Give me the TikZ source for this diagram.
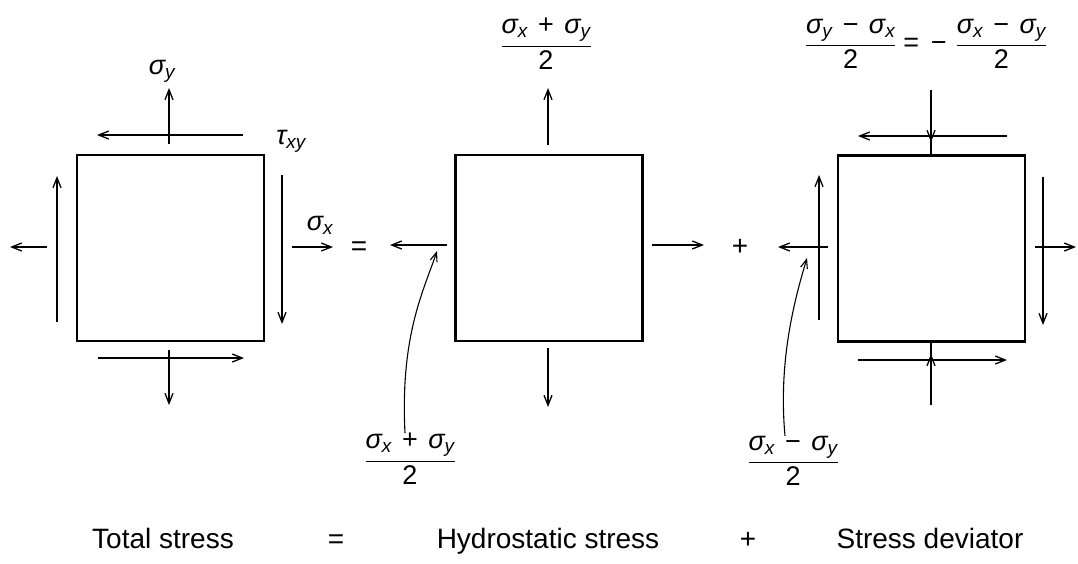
\documentclass[tikz,border=0pt]{standalone}
\usepackage{amsmath}
\usepackage{fontspec}
\setmainfont{Liberation Sans}
\usetikzlibrary{arrows.meta}
\newcommand\sgm[1]{\text{\itshape σ}_{\text{\itshape #1}}}
\newcommand\taxy{\text{\itshape τ}_{\text{\itshape xy}}}
\newcommand\tplus{\mathbin{\text{\hspace{0.18em}+\hspace{0.18em}}}}
\newcommand\tminus{\mathbin{\text{\hspace{0.18em}−\hspace{0.18em}}}}
\newcommand\teq{\mathrel{\text{=}}}
\newcommand\fr[2]{\genfrac{}{}{1.3pt}{0}{#1}{#2}}
\begin{document}
\begin{tikzpicture}[x=1pt,y=-1pt,
  box/.style={draw,line width=2.7pt,minimum width=187pt,minimum height=186pt,inner sep=0pt,outer sep=0pt},
  force/.style={line width=1.5pt,-{Straight Barb[length=10pt,width=8pt,line width=1.3pt]}},
  plainline/.style={line width=1.5pt},
  lead/.style={line width=1.1pt,-{Straight Barb[length=9pt,width=7pt,line width=1.1pt]}},
  frac/.style={font=\fontsize{27}{32}\selectfont,inner sep=0pt},
  lbl/.style={font=\fontsize{28}{32}\selectfont,inner sep=0pt}]
\useasboundingbox (0,0) rectangle (1078,563);

% squares
\node[box] (A) at (170.5,248) {};
\node[box] (B) at (549,248) {};
\node[box] (D) at (931.5,248.5) {};

% ---- total stress
\draw[force] (169,144) -- (169,88);
\draw[force] (169,350) -- (169,405);
\draw[force] (47,247) -- (10,247);
\draw[force] (292,247) -- (333,247);
\draw[force] (243,135) -- (97,135);
\draw[force] (98,358) -- (244,358);
\draw[force] (57,322) -- (57,176);
\draw[force] (282,175) -- (282,324);
\node[frac] (sy) at (162,71) {$\sgm{y}$};
\node[frac] (txy) at (291,141) {$\taxy$};
\node[frac] (sx) at (320,225) {$\sgm{x}$};
\node[lbl] (eq1) at (359,249) {=};

% ---- hydrostatic
\draw[force] (548,145) -- (548,88);
\draw[force] (548,348) -- (548,407);
\draw[force] (447,245) -- (390,245);
\draw[force] (652,245) -- (704,245);
\node[frac] (fB) at (546,44) {$\fr{\sgm{x}\tplus\sgm{y}}{\text{2}}$};
\node[frac] (fBl) at (410,459) {$\fr{\sgm{x}\tplus\sgm{y}}{\text{2}}$};
\coordinate (tB) at (437,251);
\draw[lead] ([xshift=-5pt]fBl.north) .. controls (400,335) and (424,290) .. (tB);
\node[lbl] (pl1) at (740,247) {+};

% ---- deviator
\draw[force] (931,90) -- (931,142);
\draw[plainline] (931,140) -- (931,154);
\draw[force] (931,405) -- (931,354);
\draw[plainline] (931,356) -- (931,343);
\draw[force] (1007,136) -- (858,136);
\draw[force] (858,360) -- (1007,360);
\draw[force] (819,320) -- (819,175);
\draw[force] (828,247) -- (778,247);
\draw[force] (1043,177) -- (1043,325);
\draw[force] (1035,247) -- (1076,247);
\node[frac] (fD) at (926,44) {$\fr{\sgm{y}\tminus\sgm{x}}{\text{2}}\teq\tminus\,\fr{\sgm{x}\tminus\sgm{y}}{\text{2}}$};
\node[frac] (fDl) at (793,461) {$\fr{\sgm{x}\tminus\sgm{y}}{\text{2}}$};
\coordinate (tD) at (807,258);
\draw[lead] ([xshift=-8pt]fDl.north) .. controls (778,360) and (795,298) .. (tD);

% ---- captions
\node[lbl,anchor=base] (c1) at (163,548) {Total stress};
\node[lbl,anchor=base] (c2) at (336,548) {=};
\node[lbl,anchor=base] (c3) at (548,548) {Hydrostatic stress};
\node[lbl,anchor=base] (c4) at (748,548) {+};
\node[lbl,anchor=base] (c5) at (930,548) {Stress deviator};
\end{tikzpicture}
\end{document}
